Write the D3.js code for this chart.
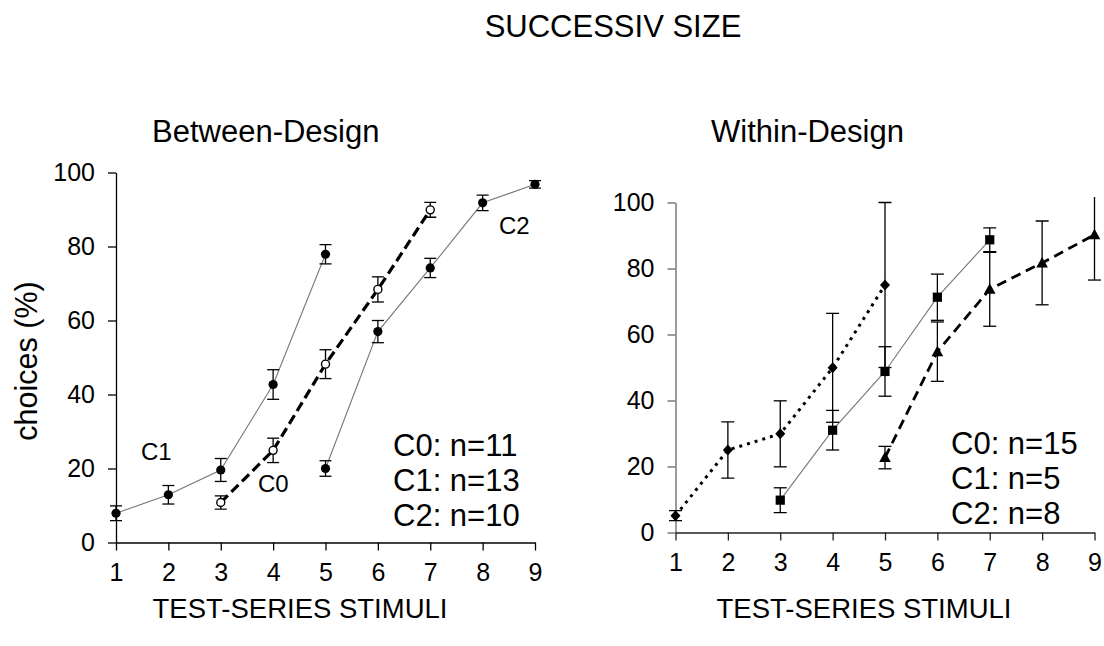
<!DOCTYPE html>
<html>
<head>
<meta charset="utf-8">
<script src="https://cdn.jsdelivr.net/npm/d3@7"></script>
<style>
  html, body { margin: 0; padding: 0; background: #fff; }
  svg { display: block; font-family: "Liberation Sans", Arial, sans-serif; }
</style>
</head>
<body>
<svg id="chart" width="1104" height="646"></svg>
<script>
// ---- data ----
const stimuli = [1, 2, 3, 4, 5, 6, 7, 8, 9];
const yTicks = [0, 20, 40, 60, 80, 100];

// Between-Design
const betweenC1X = [1, 2, 3, 4, 5];
const betweenC1Y = [7.9, 12.9, 19.6, 42.7, 77.9];
const betweenC1E = [2.0, 2.5, 3.1, 4.0, 2.6];
const betweenC2X = [5, 6, 7, 8, 9];
const betweenC2Y = [20.0, 57.0, 74.2, 91.8, 96.8];
const betweenC2E = [2.1, 3.0, 2.6, 2.1, 1.0];
const betweenC0X = [3, 4, 5, 6, 7];
const betweenC0Y = [10.8, 24.9, 48.2, 68.4, 89.9];
const betweenC0E = [1.8, 3.3, 3.9, 3.4, 2.0];
const betweenN = ["C0: n=11", "C1: n=13", "C2: n=10"];

// Within-Design
const withinC1X = [1, 2, 3, 4, 5];
const withinC1Y = [5.1, 25.0, 29.9, 49.9, 75.0];
const withinC1E = [1.5, 8.5, 10.0, 16.5, 25.0];
const withinC0X = [3, 4, 5, 6, 7];
const withinC0Y = [9.8, 31.0, 48.8, 71.3, 88.7];
const withinC0E = [3.75, 6.0, 7.5, 7.0, 3.6];
const withinC2X = [5, 6, 7, 8, 9];
const withinC2Y = [22.7, 54.8, 73.7, 81.7, 90.2];
const withinC2E = [3.4, 9.0, 11.2, 12.7, 13.7];
const withinN = ["C0: n=15", "C1: n=5", "C2: n=8"];

// ---- drawing ----
const svg = d3.select("#chart");
const zip = (xs, ys, es) => xs.map((x, i) => ({x, y: ys[i], e: es[i]}));

svg.append("text").attr("x", 613).attr("y", 37).attr("text-anchor", "middle")
  .attr("font-size", 31).text("SUCCESSIV SIZE");

function panel(cfg) {
  const x = d3.scaleLinear().domain([1, 9]).range(cfg.xr);
  const y = d3.scaleLinear().domain([0, 100]).range(cfg.yr);
  const g = svg.append("g");

  // axes
  const ya = g.append("g").attr("transform", `translate(${cfg.xr[0]},0)`)
    .call(d3.axisLeft(y).tickValues(yTicks).tickSize(8).tickPadding(13).tickSizeOuter(0));
  ya.select(".domain").attr("stroke", cfg.yAxisColor).attr("stroke-width", 1.3);
  ya.selectAll(".tick line").attr("stroke", cfg.yAxisColor).attr("stroke-width", 1.3);
  ya.selectAll("text").attr("font-size", 25).attr("fill", "#000")
    .attr("font-family", "Liberation Sans, Arial, sans-serif");

  const xa = g.append("g").attr("transform", `translate(0,${cfg.yr[0]})`)
    .call(d3.axisBottom(x).tickValues(stimuli).tickFormat(d3.format("d"))
      .tickSize(8).tickPadding(13).tickSizeOuter(0));
  xa.select(".domain").attr("stroke", cfg.xAxisColor).attr("stroke-width", 1.3);
  xa.selectAll(".tick line").attr("stroke", cfg.xAxisColor).attr("stroke-width", 1.3);
  xa.selectAll("text").attr("font-size", 25).attr("fill", "#000")
    .attr("font-family", "Liberation Sans, Arial, sans-serif");

  // titles
  g.append("text").attr("x", cfg.titleX).attr("y", 142).attr("font-size", 31).text(cfg.title);
  g.append("text").attr("x", cfg.axisTitleX).attr("y", 618)
    .attr("text-anchor", "middle").attr("font-size", 27.5).text("TEST-SERIES STIMULI");

  // clip for error bars
  const clipId = "clip" + cfg.id;
  svg.append("clipPath").attr("id", clipId).append("rect")
    .attr("x", cfg.xr[0] - 20).attr("y", y(cfg.clipTop))
    .attr("width", cfg.xr[1] - cfg.xr[0] + 40).attr("height", y(0) - y(cfg.clipTop) + 20);

  const line = d3.line().x(d => x(d.x)).y(d => y(d.y));

  cfg.series.forEach(s => {
    const data = zip(s.xs, s.ys, s.es);
    g.append("path").datum(data).attr("d", line).attr("fill", "none")
      .attr("stroke", s.stroke).attr("stroke-width", s.width)
      .attr("stroke-dasharray", s.dash || null);
  });

  cfg.series.forEach(s => {
    const data = zip(s.xs, s.ys, s.es);
    const eg = g.append("g").attr("clip-path", `url(#${clipId})`)
      .attr("stroke", "#000").attr("stroke-width", 1.3).attr("fill", "none");
    const cw = cfg.cap;
    data.forEach(d => {
      const xx = x(d.x), y1 = y(d.y + d.e), y0 = y(d.y - d.e);
      eg.append("line").attr("x1", xx).attr("x2", xx).attr("y1", y1).attr("y2", y0);
      eg.append("line").attr("x1", xx - cw).attr("x2", xx + cw).attr("y1", y1).attr("y2", y1);
      eg.append("line").attr("x1", xx - cw).attr("x2", xx + cw).attr("y1", y0).attr("y2", y0);
    });
  });

  cfg.series.forEach(s => {
    const data = zip(s.xs, s.ys, s.es);
    const mg = g.append("g");
    data.forEach(d => {
      const xx = x(d.x), yy = y(d.y);
      if (s.marker === "circle") {
        mg.append("circle").attr("cx", xx).attr("cy", yy).attr("r", 4.6).attr("fill", "#000");
      } else if (s.marker === "open") {
        mg.append("circle").attr("cx", xx).attr("cy", yy).attr("r", 4)
          .attr("fill", "#fff").attr("stroke", "#000").attr("stroke-width", 1.4);
      } else if (s.marker === "square") {
        mg.append("rect").attr("x", xx - 4.6).attr("y", yy - 4.6).attr("width", 9.2).attr("height", 9.2).attr("fill", "#000");
      } else if (s.marker === "diamond") {
        mg.append("path").attr("d", `M${xx},${yy - 5.5}L${xx + 5},${yy}L${xx},${yy + 5.5}L${xx - 5},${yy}Z`).attr("fill", "#000");
      } else if (s.marker === "triangle") {
        mg.append("path").attr("d", `M${xx},${yy - 6}L${xx + 5.8},${yy + 4.5}L${xx - 5.8},${yy + 4.5}Z`).attr("fill", "#000");
      }
    });
  });

  // labels
  cfg.labels.forEach(l => {
    g.append("text").attr("x", l.x).attr("y", l.y).attr("font-size", l.size).text(l.t);
  });
  cfg.nLines.forEach((t, i) => {
    g.append("text").attr("x", cfg.nX).attr("y", cfg.nY + i * 35).attr("font-size", 31).text(t);
  });
}

panel({
  id: "L", xr: [116, 535], yr: [542.5, 172.5], yAxisColor: "#000", xAxisColor: "#000",
  title: "Between-Design", titleX: 152, axisTitleX: 300, cap: 6, clipTop: 110,
  series: [
    {xs: betweenC1X, ys: betweenC1Y, es: betweenC1E, stroke: "#777", width: 1.1, marker: "circle"},
    {xs: betweenC2X, ys: betweenC2Y, es: betweenC2E, stroke: "#777", width: 1.1, marker: "circle"},
    {xs: betweenC0X, ys: betweenC0Y, es: betweenC0E, stroke: "#000", width: 3.2, dash: "10,5", marker: "open"}
  ],
  labels: [
    {t: "C1", x: 141, y: 460, size: 24},
    {t: "C0", x: 258, y: 492, size: 24},
    {t: "C2", x: 499, y: 234, size: 24}
  ],
  nLines: betweenN, nX: 393, nY: 456
});

panel({
  id: "R", xr: [675.5, 1094.5], yr: [532.5, 202.5], yAxisColor: "#666", xAxisColor: "#222",
  title: "Within-Design", titleX: 711, axisTitleX: 864, cap: 6.5, clipTop: 101.7,
  series: [
    {xs: withinC1X, ys: withinC1Y, es: withinC1E, stroke: "#000", width: 3, dash: "3,5", marker: "diamond"},
    {xs: withinC0X, ys: withinC0Y, es: withinC0E, stroke: "#777", width: 1.1, marker: "square"},
    {xs: withinC2X, ys: withinC2Y, es: withinC2E, stroke: "#000", width: 2.8, dash: "10,6", marker: "triangle"}
  ],
  labels: [],
  nLines: withinN, nX: 951, nY: 454
});

// y axis title
svg.append("text").attr("transform", "translate(37,361) rotate(-90)")
  .attr("text-anchor", "middle").attr("font-size", 30.5).text("choices (%)");
</script>
</body>
</html>
